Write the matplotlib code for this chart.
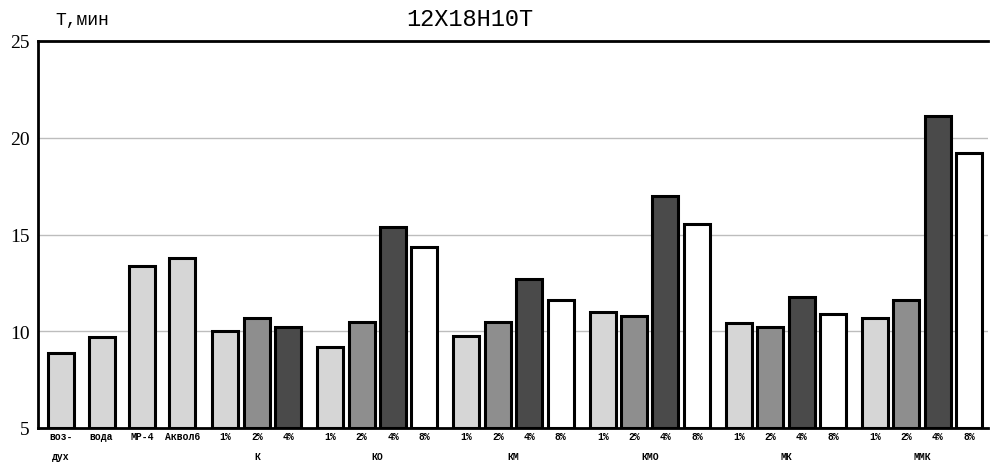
import matplotlib
matplotlib.use("Agg")
import matplotlib.pyplot as plt

# single bars, then groups of 1%/2%/4%/8%
single_labels = ["воз-\nдух", "вода", "МР-4", "Аквол6"]
single_values = [8.9, 9.7, 13.35, 13.8]

groups = ["К", "КО", "КМ", "КМО", "МК", "ММК"]
pct_labels = ["1%", "2%", "4%", "8%"]
group_values = [
    [10.0, 10.7, 10.2],
    [9.2, 10.5, 15.4, 14.35],
    [9.75, 10.5, 12.7, 11.6],
    [11.0, 10.8, 17.0, 15.55],
    [10.45, 10.2, 11.75, 10.9],
    [10.7, 11.6, 21.1, 19.2],
]

yticks = [5, 10, 15, 20, 25]
colors = ["#d6d6d6", "#8e8e8e", "#4a4a4a", "#ffffff"]

fig = plt.figure(figsize=(9.91, 4.64), dpi=100)
ax = fig.add_axes([38 / 991, 1 - 429 / 464, 950 / 991, 387 / 464])

mono = "Liberation Mono"
x = 61.0
xs, hs, cs, labs = [], [], [], []
for lab, v in zip(single_labels, single_values):
    xs.append(x); hs.append(v); cs.append(colors[0]); labs.append(lab)
    x += 40.5
x += 2.5
group_centers = []
for g, vals in zip(groups, group_values):
    gx = []
    for i, v in enumerate(vals):
        xs.append(x); hs.append(v); cs.append(colors[i]); labs.append(pct_labels[i])
        gx.append(x)
        x += 31.4
    group_centers.append(sum(gx) / len(gx))
    x += 10.6

ax.bar(xs, [h - 5 for h in hs], bottom=5, width=26, color=cs,
       edgecolor="black", linewidth=2.2, zorder=3)

ax.set_xlim(38, 988)
ax.set_ylim(5, 25)
ax.set_yticks(yticks)
ax.set_yticklabels([str(t) for t in yticks], family="Liberation Serif", fontsize=14)
ax.tick_params(axis="y", length=0, pad=6)
ax.set_xticks([])
ax.grid(axis="y", color="#bdbdbd", linewidth=1, zorder=0)

for s in ["top", "left", "bottom"]:
    ax.spines[s].set_linewidth(2)
ax.spines["right"].set_visible(False)

row1 = 5 - 8.5 / 19.35
row2 = 5 - 28 / 19.35
for xi, lab in zip(xs, labs):
    parts = lab.split("\n")
    ax.text(xi, row1, parts[0], ha="center", va="center", fontsize=7,
            family=mono, fontweight="bold", clip_on=False)
    if len(parts) > 1:
        ax.text(xi, row2, parts[1], ha="center", va="center", fontsize=7,
                family=mono, fontweight="bold", clip_on=False)
for gc, g in zip(group_centers, groups):
    ax.text(gc, row2, g, ha="center", va="center", fontsize=7, family=mono,
            fontweight="bold", clip_on=False)

fig.text(470 / 991, 1 - 19 / 464, "12X18H10T", ha="center", va="center",
         family=mono, fontsize=17)
fig.text(55 / 991, 1 - 20 / 464, "Т,мин", ha="left", va="center",
         family=mono, fontsize=13)

fig.savefig("out.png", dpi=100)
